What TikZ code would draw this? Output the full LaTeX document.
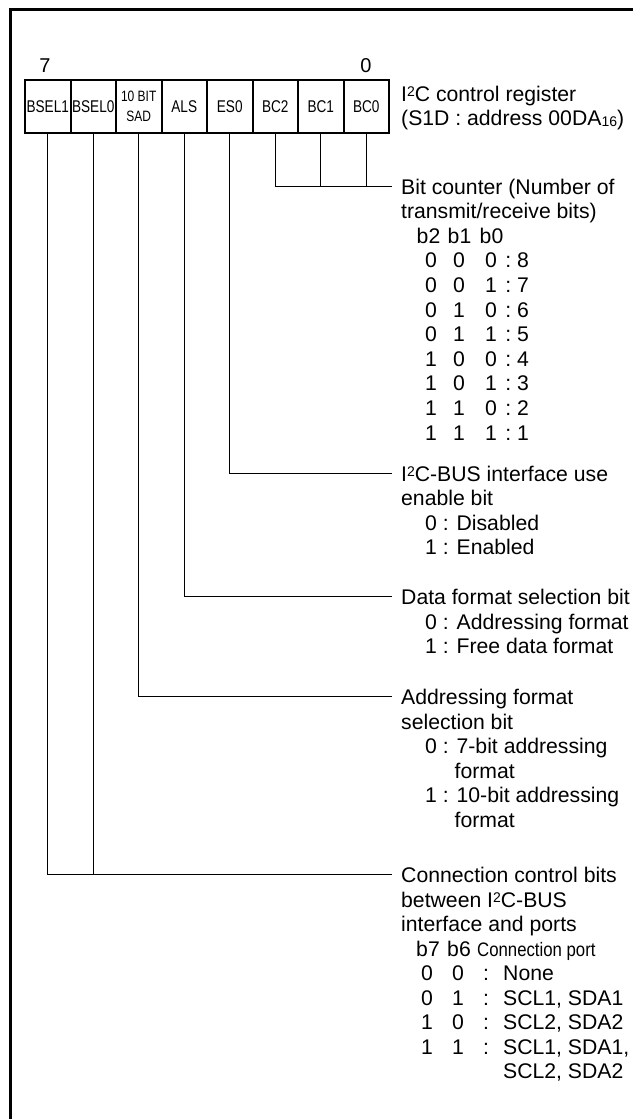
\documentclass[tikz,border=0pt]{standalone}
\usepackage{fontspec}
\setmainfont{Liberation Sans}
\newfontfamily\narrowfont[FakeStretch=0.8]{Liberation Sans}
\newfontfamily\portfont[FakeStretch=0.86]{Liberation Sans}
\newcommand{\Itwo}{I\raisebox{4.8pt}{\fontsize{14}{14}\selectfont 2}C}
\begin{document}
\begin{tikzpicture}[x=1pt,y=-1pt,
  cell/.style={draw,line width=2pt,minimum width=45.5pt,minimum height=53pt,inner sep=0pt,
    font=\narrowfont\fontsize{17}{17}\selectfont},
  conn/.style={line width=0.9pt},
  txt/.style={anchor=base west,inner sep=0pt,font=\fontsize{21.2}{24.5}\selectfont},
  ctr/.style={anchor=base,inner sep=0pt,font=\fontsize{21.2}{24.5}\selectfont},
  bitno/.style={anchor=base,inner sep=0pt,font=\fontsize{20}{20}\selectfont},
  frame/.style={line width=3pt}
]
\useasboundingbox (0,0) rectangle (632,1119);
% outer frame (top and left only)
\draw[frame] (10,1130) -- (10,9.5) -- (645,9.5);

% bit numbers
\node[bitno] (n7) at (45,72) {7};
\node[bitno] (n0) at (366,72) {0};

% register cells
\node[cell] (b7) at (47.75,106.5) {BSEL1};
\node[cell] (b6) at (93.25,106.5) {BSEL0};
\node[cell,align=center,font=\narrowfont\fontsize{15}{20}\selectfont] (b5) at (138.75,106.5) {10 BIT\\SAD};
\node[cell] (b4) at (184.25,106.5) {ALS};
\node[cell] (b3) at (229.75,106.5) {ES0};
\node[cell] (b2) at (275.25,106.5) {BC2};
\node[cell] (b1) at (320.75,106.5) {BC1};
\node[cell] (b0) at (366.25,106.5) {BC0};

% register title
\node[txt] (reg1) at (401,101) {\Itwo\ control register};
\node[txt] (reg2) at (401,125.5) {(S1D : address 00DA\raisebox{-1pt}{\fontsize{14}{14}\selectfont 16})};

% connector end points
\coordinate (ebc) at (392,186);
\coordinate (ees) at (392,473);
\coordinate (eal) at (392,596);
\coordinate (esa) at (392,696);
\coordinate (ebs) at (392,874);

% connectors
\draw[conn] (b2.south) |- (ebc);
\draw[conn] (b1.south) -- (b1.south |- ebc);
\draw[conn] (b0.south) -- (b0.south |- ebc);
\draw[conn] (b3.south) |- (ees);
\draw[conn] (b4.south) |- (eal);
\draw[conn] (b5.south) |- (esa);
\draw[conn] (b7.south) |- (ebs);
\draw[conn] (b6.south) -- (b6.south |- ebs);

% bit counter block
\node[txt] (bc1) at (401,194) {Bit counter (Number of};
\node[txt] (bc2) at (401,218.6) {transmit/receive bits)};
\node[ctr] (hb2) at (428.5,243.2) {b2};
\node[ctr] (hb1) at (459.5,243.2) {b1};
\node[ctr] (hb0) at (491.5,243.2) {b0};
\foreach \a/\b/\c/\v [count=\i] in {0/0/0/8,0/0/1/7,0/1/0/6,0/1/1/5,1/0/0/4,1/0/1/3,1/1/0/2,1/1/1/1} {
  \pgfmathsetmacro\yy{243.2+24.6*\i}
  \node[ctr] (ra\i) at (431,\yy) {\a};
  \node[ctr] (rb\i) at (459,\yy) {\b};
  \node[ctr] (rc\i) at (491,\yy) {\c};
  \node[ctr] (rd\i) at (508.3,\yy) {:};
  \node[txt] (re\i) at (517,\yy) {\v};
}

% ES0 block
\node[txt] (es1) at (401,481) {\Itwo-BUS interface use};
\node[txt] (es2) at (401,505.5) {enable bit};
\node[txt] (es3) at (425,530) {0 : Disabled};
\node[txt] (es4) at (425,554.5) {1 : Enabled};

% ALS block
\node[txt] (al1) at (401,604.5) {Data format selection bit};
\node[txt] (al2) at (425,629) {0 : Addressing format};
\node[txt] (al3) at (425,653.5) {1 : Free data format};

% SAD block
\node[txt] (sa1) at (401,704.5) {Addressing format};
\node[txt] (sa2) at (401,729) {selection bit};
\node[txt] (sa3) at (425,753.5) {0 : 7-bit addressing};
\node[txt] (sa4) at (454.5,778) {format};
\node[txt] (sa5) at (425,802.5) {1 : 10-bit addressing};
\node[txt] (sa6) at (454.5,827) {format};

% BSEL block
\node[txt] (bs1) at (401,882.5) {Connection control bits};
\node[txt] (bs2) at (401,907) {between \Itwo-BUS};
\node[txt] (bs3) at (401,931.5) {interface and ports};
\node[ctr] (hb7) at (428,956) {b7};
\node[ctr] (hb6) at (459,956) {b6};
\node[anchor=base west,inner sep=0pt,font=\portfont\fontsize{19.5}{19.5}\selectfont] (hcp) at (477,956) {Connection port};
\foreach \a/\b/\v [count=\i] in {0/0/None,0/1/{SCL1, SDA1},1/0/{SCL2, SDA2},1/1/{SCL1, SDA1,}} {
  \pgfmathsetmacro\yy{956+24.5*\i}
  \node[ctr] (pa\i) at (427,\yy) {\a};
  \node[ctr] (pb\i) at (458,\yy) {\b};
  \node[ctr] (pc\i) at (486,\yy) {:};
  \node[txt] (pd\i) at (503,\yy) {\v};
}
\node[txt] (pe) at (503,1078.5) {SCL2, SDA2};
\end{tikzpicture}
\end{document}
